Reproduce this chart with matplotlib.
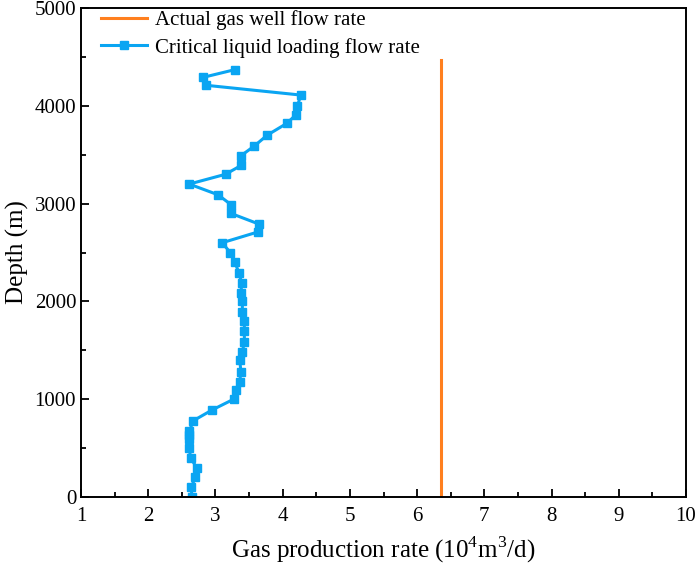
import numpy as np
import matplotlib
matplotlib.use("Agg")
import matplotlib.pyplot as plt
from matplotlib.ticker import MultipleLocator

plt.rcParams['font.family'] = ['Liberation Serif', 'DejaVu Serif']
plt.rcParams['mathtext.fontset'] = 'custom'
plt.rcParams['mathtext.rm'] = 'Liberation Serif'

# critical liquid loading flow rate vs depth
depth = [0, 100, 200, 300, 400, 500, 590, 630, 670, 780, 890, 1000, 1090, 1180,
         1280, 1400, 1480, 1590, 1700, 1800, 1890, 2000, 2090, 2190, 2290, 2400,
         2500, 2600, 2710, 2790, 2900, 2990, 3090, 3200, 3300, 3390, 3490, 3590,
         3700, 3820, 3910, 4000, 4110, 4210, 4290, 4370]
critical = [2.65, 2.64, 2.70, 2.72, 2.63, 2.61, 2.61, 2.61, 2.61, 2.67, 2.95, 3.27,
            3.31, 3.36, 3.38, 3.36, 3.40, 3.43, 3.43, 3.43, 3.40, 3.40, 3.38, 3.39,
            3.35, 3.29, 3.22, 3.10, 3.63, 3.65, 3.23, 3.23, 3.04, 2.61, 3.15, 3.38,
            3.38, 3.58, 3.77, 4.06, 4.20, 4.22, 4.27, 2.86, 2.81, 3.29]

# actual gas well flow rate (constant)
actual_depth = [0, 4470]
actual_rate = [6.36, 6.36]

fig = plt.figure(figsize=(6.99, 5.73), dpi=100)
ax = fig.add_axes([0.1159, 0.1326, 0.8655, 0.8534])

ax.plot(actual_rate, actual_depth, color='#FF7F1E', lw=2.2,
        label='Actual gas well flow rate')
ax.plot(critical, depth, color='#0AA5F2', lw=2.2, marker='s', ms=6,
        label='Critical liquid loading flow rate')

ax.set_xlim(1, 10)
ax.set_ylim(0, 5000)
ax.xaxis.set_major_locator(MultipleLocator(1))
ax.xaxis.set_minor_locator(MultipleLocator(0.5))
ax.yaxis.set_major_locator(MultipleLocator(1000))
ax.yaxis.set_minor_locator(MultipleLocator(500))
ax.tick_params(which='both', direction='in', labelsize=15, width=1.3)
ax.tick_params(which='major', length=6)
ax.tick_params(which='minor', length=3.5)
ax.tick_params(axis='x', pad=7)
for s in ax.spines.values():
    s.set_linewidth(1.4)

ax.set_xlabel('Gas production rate (10$^4$m$^3$/d)', fontsize=18, labelpad=6)
ax.set_ylabel('Depth (m)', fontsize=18, labelpad=4)

ax.legend(loc='upper left', bbox_to_anchor=(0.02, 1.012), frameon=False,
          fontsize=15, handlelength=2.2, borderaxespad=0, handletextpad=0.35,
          labelspacing=0.35)

fig.savefig('out.png', dpi=100)
